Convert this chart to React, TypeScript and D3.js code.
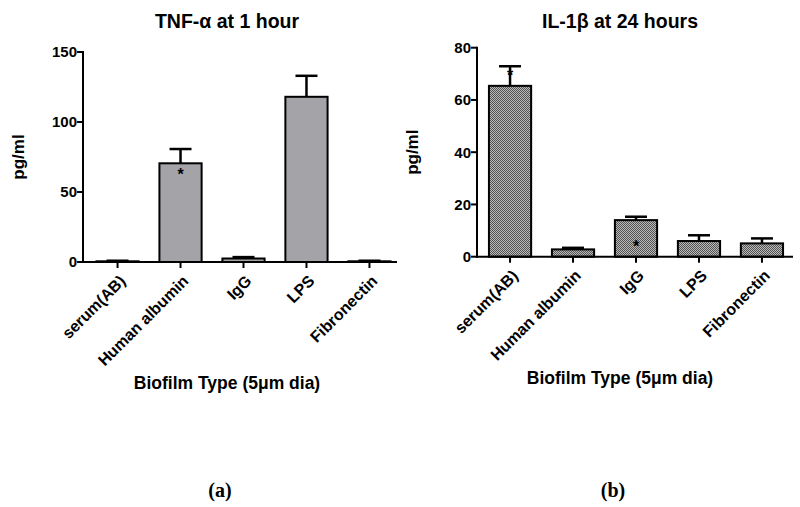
import React from 'react';
import * as d3 from 'd3';

const categories = ['serum(AB)', 'Human albumin', 'IgG', 'LPS', 'Fibronectin'];

// TNF-alpha at 1 hour
const tnfMeans = [0.5, 70.5, 2.5, 118, 0.5];
const tnfErrors = [0.4, 10.2, 1.0, 15, 0.4];
const tnfTicks = [0, 50, 100, 150];
const tnfStars = [false, true, false, false, false];

// IL-1beta at 24 hours
const ilMeans = [65.4, 2.8, 14.0, 6.0, 5.1];
const ilErrors = [7.5, 0.6, 1.3, 2.2, 1.9];
const ilTicks = [0, 20, 40, 60, 80];
const ilStars = [true, false, true, false, false];

const FONT = '"Liberation Sans", Arial, Helvetica, sans-serif';

interface PanelProps {
  x0: number;
  yTop: number;
  yBottom: number;
  xEnd: number;
  band: [number, number];
  title: string;
  means: number[];
  errors: number[];
  ticks: number[];
  stars: boolean[];
  maxY: number;
  fill: string;
  tag: string;
  titleX: number;
}

const Panel: React.FC<PanelProps> = ({ x0, yTop, yBottom, xEnd, band, title, means, errors, ticks, stars, maxY, fill, tag, titleX }) => {
  const y = d3.scaleLinear().domain([0, maxY]).range([yBottom, yTop]);
  const x = d3.scaleBand().domain(categories).range(band).paddingInner(0.33).paddingOuter(0.15);
  const bw = x.bandwidth();
  const capW = 22;

  // where the asterisk goes for a marked bar
  const starY = (i: number) => {
    if (tag === '(a)') return y(means[i]) + 17;
    if (i === 0) return y(means[i] + errors[i]) + 15;
    return yBottom - 5;
  };

  return (
    <g>
      <text x={titleX} y={28} textAnchor="middle" fontFamily={FONT} fontWeight="bold" fontSize={19.5}>{title}</text>
      {categories.map((c, i) => {
        const cx = (x(c) || 0) + bw / 2;
        const top = y(means[i]);
        const et = y(means[i] + errors[i]);
        return (
          <g key={c}>
            <line x1={cx} x2={cx} y1={top} y2={et} stroke="#000" strokeWidth={2.5} />
            <line x1={cx - capW / 2} x2={cx + capW / 2} y1={et} y2={et} stroke="#000" strokeWidth={2.5} />
            <rect x={x(c)} y={top} width={bw} height={yBottom - top} fill={fill} stroke="#000" strokeWidth={2} />
            {stars[i] && (
              <text x={cx} y={starY(i)} textAnchor="middle" fontFamily={FONT} fontWeight="bold" fontSize={16} fill="#000">*</text>
            )}
          </g>
        );
      })}
      {/* y axis */}
      <line x1={x0} x2={x0} y1={yTop - 1} y2={yBottom + 1} stroke="#000" strokeWidth={2} />
      {ticks.map(t => (
        <g key={t}>
          <line x1={x0 - 6} x2={x0} y1={y(t)} y2={y(t)} stroke="#000" strokeWidth={2} />
          <text x={x0 - 6} y={y(t)} dy="0.36em" textAnchor="end" fontFamily={FONT} fontWeight="bold" fontSize={15}>{t}</text>
        </g>
      ))}
      <text transform={`translate(${x0 - 59},${(yTop + yBottom) / 2}) rotate(-90)`} textAnchor="middle"
        fontFamily={FONT} fontWeight="bold" fontSize={17}>pg/ml</text>
      {/* x axis */}
      <line x1={x0 - 1} x2={xEnd} y1={yBottom} y2={yBottom} stroke="#000" strokeWidth={2} />
      {categories.map(c => {
        const cx = (x(c) || 0) + bw / 2;
        return (
          <g key={c}>
            <line x1={cx} x2={cx} y1={yBottom} y2={yBottom + 6} stroke="#000" strokeWidth={2} />
            <text transform={`translate(${cx + 9},${yBottom + 20}) rotate(-45)`} textAnchor="end"
              fontFamily={FONT} fontWeight="bold" fontSize={16}>{c}</text>
          </g>
        );
      })}
      <text x={titleX} y={yBottom + 127} textAnchor="middle" fontFamily={FONT} fontWeight="bold" fontSize={17.5}>
        Biofilm Type (5μm dia)
      </text>
      <text x={titleX - 7} y={497} textAnchor="middle" fontFamily='"Liberation Serif", "Times New Roman", serif'
        fontWeight="bold" fontSize={20}>{tag}</text>
    </g>
  );
};

export default function App() {
  return (
    <svg width={800} height={507} style={{ position: 'absolute', left: 0, top: 0, background: '#fff' }}>
      <defs>
        <pattern id="checker" width={2} height={2} patternUnits="userSpaceOnUse">
          <rect width={2} height={2} fill="#b8b8b8" />
          <rect width={1} height={1} fill="#555" />
          <rect x={1} y={1} width={1} height={1} fill="#555" />
        </pattern>
      </defs>
      <rect width={800} height={507} fill="#fff" />
      <Panel x0={83} yTop={52} yBottom={262} xEnd={397} band={[87, 400]} title="TNF-α at 1 hour" means={tnfMeans}
        errors={tnfErrors} ticks={tnfTicks} stars={tnfStars} maxY={150} fill="#a4a4a8" tag="(a)" titleX={227} />
      <Panel x0={477} yTop={47.7} yBottom={256.7} xEnd={793} band={[479.5, 792.5]} title="IL-1β at 24 hours"
        means={ilMeans} errors={ilErrors} ticks={ilTicks} stars={ilStars} maxY={80} fill="url(#checker)" tag="(b)"
        titleX={620} />
    </svg>
  );
}
